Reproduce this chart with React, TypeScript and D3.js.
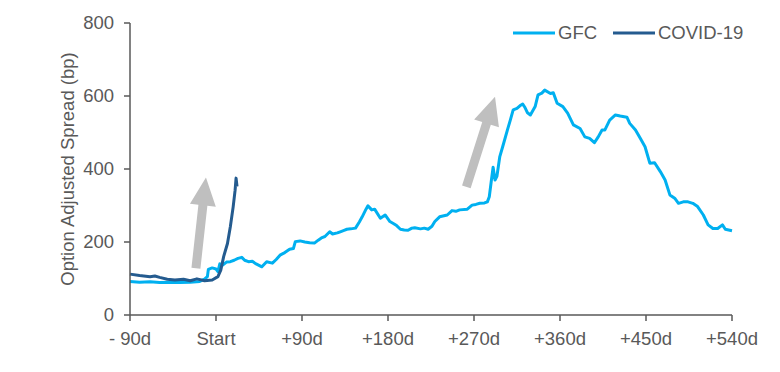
import React from "react";
import * as d3 from "d3";

const gfcDays = [-90,-80,-69,-59,-48,-38,-27,-17,-12,-9,-8,-4,0,2,4,7,11,15,19,23,27,30,34,38,42,48,53,59,63,67,72,77,81,83,88,93,98,103,107,111,114,119,122,127,130,134,137,141,146,150,153,157,159,163,166,172,177,182,186,189,193,197,201,205,208,214,218,222,226,229,234,242,247,251,255,263,268,272,276,281,284,286,288,290,292,294,297,300,305,308,311,315,318,321,323,326,329,334,337,341,344,350,353,357,363,368,374,381,386,391,396,400,404,407,412,418,423,430,433,439,444,449,454,459,465,470,475,480,484,489,494,499,504,510,515,520,525,530,533,540];
const gfcValues = [92,90,91,89,90,89,90,92,98,105,125,129,126,119,140,137,145,146,150,155,158,150,146,147,140,132,146,142,152,164,171,180,182,201,203,200,198,197,205,212,215,228,222,225,228,232,235,236,238,255,269,290,299,288,290,265,274,256,250,245,235,233,232,238,239,236,238,235,243,256,269,274,286,284,288,290,301,303,306,307,310,324,365,405,370,380,434,461,507,534,562,566,573,578,570,554,548,571,603,608,616,607,609,580,571,553,521,511,488,484,472,488,507,507,534,548,545,542,525,507,484,461,416,417,393,370,329,320,306,310,310,306,297,274,247,237,237,247,235,231];

const covidDays = [-90,-80,-69,-64,-59,-51,-43,-34,-27,-20,-12,-4,2,5,8,12,15,18,20,21,22];
const covidValues = [112,108,105,107,103,98,96,98,94,99,94,96,105,123,160,196,242,297,342,375,352];

const xTickValues = [-90, 0, 90, 180, 270, 360, 450, 540];
const xTickLabels = ["- 90d", "Start", "+90d", "+180d", "+270d", "+360d", "+450d", "+540d"];
const yTickValues = [0, 200, 400, 600, 800];

const seriesNames = ["GFC", "COVID-19"];
const seriesColors = ["#00B0F0", "#245B8F"];

// arrows: [tailDay, tailValue, tipDay, tipValue]
const arrowTails = [[-21, 128], [262, 351]];
const arrowTips = [[-10.5, 377], [292, 598]];

const W = 780, H = 372;
const M = { left: 130, right: 48, top: 23, bottom: 57 };
const FONT = "'Liberation Sans', Arial, sans-serif";
const TXT = "#595959";

export default function App() {
  const x = d3.scaleLinear().domain([-90, 540]).range([M.left, W - M.right]);
  const y = d3.scaleLinear().domain([0, 800]).range([H - M.bottom, M.top]);
  const line = d3.line<[number, number]>().x(d => x(d[0])).y(d => y(d[1]));
  const gfc = gfcDays.map((d, i) => [d, gfcValues[i]] as [number, number]);
  const covid = covidDays.map((d, i) => [d, covidValues[i]] as [number, number]);

  const arrowPath = (t: number[], h: number[]) => {
    const x0 = x(t[0]), y0 = y(t[1]), x1 = x(h[0]), y1 = y(h[1]);
    const dx = x1 - x0, dy = y1 - y0;
    const len = Math.hypot(dx, dy);
    const ux = dx / len, uy = dy / len;
    const px = -uy, py = ux;
    const sw = 4.5, hw = 13, hl = 28;
    const bx = x1 - ux * hl, by = y1 - uy * hl;
    const pts = [
      [x0 + px * sw, y0 + py * sw],
      [bx + px * sw, by + py * sw],
      [bx + px * hw, by + py * hw],
      [x1, y1],
      [bx - px * hw, by - py * hw],
      [bx - px * sw, by - py * sw],
      [x0 - px * sw, y0 - py * sw],
    ];
    return "M" + pts.map(p => p.join(",")).join("L") + "Z";
  };

  const y0 = y(0);
  return (
    <svg width={W} height={H} style={{ position: "absolute", left: 0, top: 0, background: "#fff" }} fontFamily={FONT}>
      {arrowTails.map((t, i) => (
        <path key={"a" + i} d={arrowPath(t, arrowTips[i])} fill="#BFBFBF" />
      ))}
      <path d={line(gfc) || ""} fill="none" stroke={seriesColors[0]} strokeWidth={3} strokeLinejoin="round" />
      <path d={line(covid) || ""} fill="none" stroke={seriesColors[1]} strokeWidth={3} strokeLinejoin="round" />
      {/* axes */}
      <line x1={M.left} x2={M.left} y1={y(800)} y2={y0} stroke={TXT} strokeWidth={1.5} />
      <line x1={M.left} x2={x(540)} y1={y0} y2={y0} stroke={TXT} strokeWidth={1.5} />
      {yTickValues.map(v => (
        <g key={"y" + v}>
          <line x1={M.left - 6} x2={M.left} y1={y(v)} y2={y(v)} stroke={TXT} strokeWidth={1.5} />
          <text x={M.left - 16} y={y(v)} dy="0.35em" textAnchor="end" fontSize={18.5} fill={TXT}>{v}</text>
        </g>
      ))}
      {xTickValues.map((v, i) => (
        <g key={"x" + v}>
          <line x1={x(v)} x2={x(v)} y1={y0} y2={y0 + 6} stroke={TXT} strokeWidth={1.5} />
          <text x={x(v)} y={y0 + 30} textAnchor="middle" fontSize={18.5} fill={TXT}>{xTickLabels[i]}</text>
        </g>
      ))}
      <text transform={`translate(74,${(y(800) + y0) / 2}) rotate(-90)`} textAnchor="middle" fontSize={18.5} fill={TXT}>
        Option Adjusted Spread (bp)
      </text>
      {/* legend */}
      {seriesNames.map((n, i) => {
        const lx = [513, 613][i];
        return (
          <g key={n}>
            <line x1={lx} x2={lx + 42} y1={33} y2={33} stroke={seriesColors[i]} strokeWidth={3} />
            <text x={lx + 45} y={33} dy="0.35em" fontSize={18.5} fill={TXT}>{n}</text>
          </g>
        );
      })}
    </svg>
  );
}
